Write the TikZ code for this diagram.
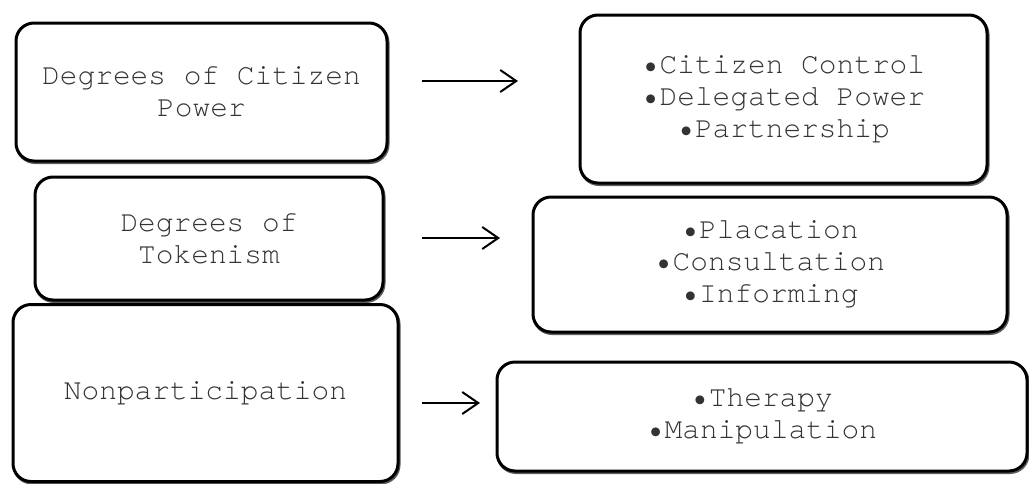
\documentclass[tikz,border=0pt]{standalone}
\usepackage{fontspec}
\setmonofont{texgyrecursor-regular.otf}
\usetikzlibrary{arrows.meta,shadows}
\begin{document}
\begin{tikzpicture}[x=1pt,y=-1pt,
  box/.style={draw=black, line width=3pt, rounded corners=18pt, fill=white,
    drop shadow={shadow xshift=1pt, shadow yshift=-1.5pt, fill=none, draw=black!80, line width=3pt, opacity=0.8},
    align=center, inner sep=0pt, font=\ttfamily\fontsize{29.5pt}{32pt}\selectfont, text=black!80},
  conn/.style={line width=2pt, -{Straight Barb[length=16pt,width=22pt,line width=2pt]}}]
\useasboundingbox (0,0) rectangle (1029,483);
\node[box, minimum width=371pt, minimum height=138pt] (b1) at (201.5,92) {Degrees of Citizen\\Power};
\node[box, minimum width=407pt, minimum height=168pt] (b2) at (783.5,99) {•Citizen Control\\•Delegated Power\\•Partnership};
\node[box, minimum width=348pt, minimum height=123pt] (b3) at (209,238.5) {Degrees of\\Tokenism};
\node[box, minimum width=474pt, minimum height=135pt] (b4) at (770,264.5) {•Placation\\•Consultation\\•Informing};
\node[box, minimum width=385pt, minimum height=177pt] (b5) at (205.5,393) {Nonparticipation};
\node[box, minimum width=530pt, minimum height=109pt] (b6) at (762,416.5) {•Therapy\\•Manipulation};
\coordinate (a1s) at (422,81);  \coordinate (a1e) at (518,81);
\coordinate (a2s) at (422,238); \coordinate (a2e) at (500,238);
\coordinate (a3s) at (422,403); \coordinate (a3e) at (480,403);
\draw[conn] (a1s) -- (a1e);
\draw[conn] (a2s) -- (a2e);
\draw[conn] (a3s) -- (a3e);
\end{tikzpicture}
\end{document}
